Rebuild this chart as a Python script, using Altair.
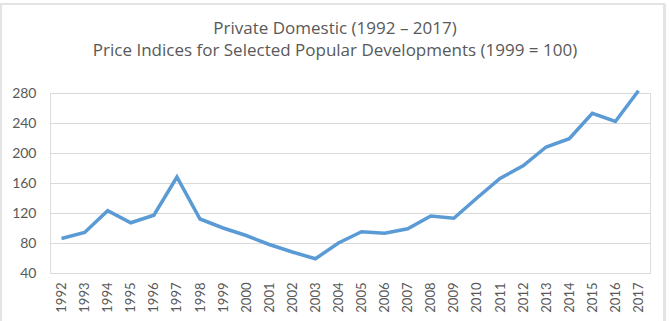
import altair as alt
import pandas as pd

years = [str(y) for y in range(1992, 2018)]
index_values = [86, 94, 123, 107, 117, 168, 112, 100, 90, 78, 68, 59, 80,
                95, 93, 99, 116, 113, 140, 166, 183, 208, 219, 253, 242, 283]
y_ticks = [40, 80, 120, 160, 200, 240, 280]
title_lines = ["Private Domestic (1992 – 2017)",
               "Price Indices for Selected Popular Developments (1999 = 100)"]

df = pd.DataFrame({"year": years, "value": index_values})

FONT = "Lato"
TITLE_FONT = "Open Sans"
GRAY = "#595959"
BORDER = "#E3E3E3"

line = alt.Chart(df).mark_line(color="#5B9BD5", strokeWidth=3.5, strokeJoin="miter").encode(
    x=alt.X("year:O", sort=years, title=None,
            scale=alt.Scale(paddingInner=0, paddingOuter=0.5),
            axis=alt.Axis(labelAngle=-90, ticks=False, domain=False, grid=False,
                          labelPadding=9, labelFontSize=13, labelColor=GRAY,
                          labelFont=FONT, labelBaseline="middle")),
    y=alt.Y("value:Q", title=None,
            scale=alt.Scale(domain=[40, 280], nice=False, zero=False),
            axis=alt.Axis(values=y_ticks, ticks=False, domain=False, grid=True,
                          gridColor="#D9D9D9", gridWidth=1, labelPadding=14,
                          labelFontSize=14, labelColor=GRAY, labelFont=FONT)),
)

base = alt.Chart(df)
top_border = base.mark_rule(color=BORDER, strokeWidth=1.5).encode(
    x=alt.value(-50), x2=alt.value(615), y=alt.value(-89))
left_border = base.mark_rule(color=BORDER, strokeWidth=1.5).encode(
    x=alt.value(-49), y=alt.value(-89), y2=alt.value(228))
right_border = base.mark_rule(color=BORDER, strokeWidth=1.5).encode(
    x=alt.value(614.5), y=alt.value(-89), y2=alt.value(228))

chart = alt.layer(top_border, left_border, right_border, line).properties(
    width=600, height=180,
    title=alt.TitleParams(text=title_lines, font=TITLE_FONT, fontSize=17, fontWeight="normal",
                          color=GRAY, anchor="middle", dx=-15, offset=-57, lineHeight=22),
    autosize=alt.AutoSizeParams(type="none"),
    padding={"left": 50, "top": 93, "right": 19, "bottom": 48},
).configure_view(stroke=None).configure(background="white")

chart.save("out.html", embed_options={"renderer": "svg", "actions": False})
